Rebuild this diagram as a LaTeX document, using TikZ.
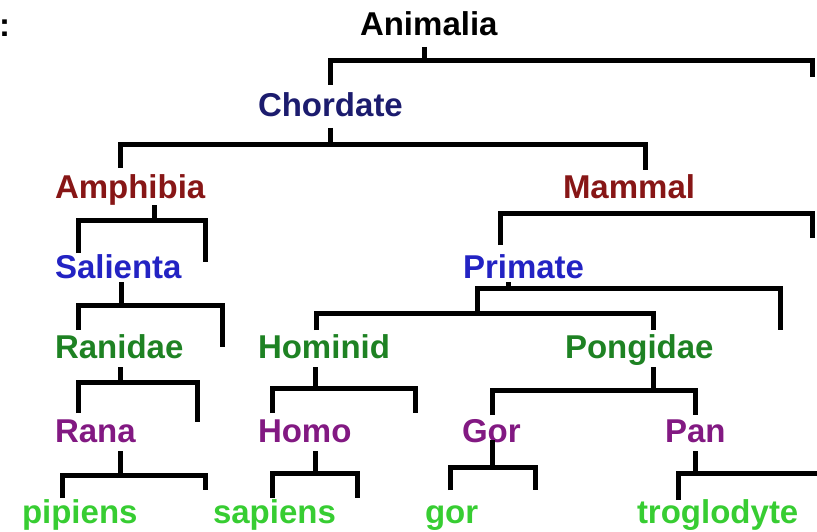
\documentclass[tikz,border=0pt]{standalone}
\usepackage{fontspec}
\setmainfont{Liberation Sans}
\definecolor{cChordate}{RGB}{28,28,110}
\definecolor{cClass}{RGB}{135,22,22}
\definecolor{cOrder}{RGB}{35,35,195}
\definecolor{cFamily}{RGB}{30,130,35}
\definecolor{cGenus}{RGB}{130,25,130}
\definecolor{cSpecies}{RGB}{55,205,50}
\begin{document}
\begin{tikzpicture}[x=1pt,y=-1pt,
  taxon/.style={anchor=base west,inner sep=0pt,outer sep=0pt,
    font=\fontsize{33}{33}\selectfont\bfseries,text depth=9pt},
  bar/.style={line width=5pt,line join=miter}]
\useasboundingbox (0,0) rectangle (817,532);
% names
\node[taxon]                  (colon)    at ( -1, 37) {:};
\node[taxon]                  (animalia) at (360, 36) {Animalia};
\node[taxon,color=cChordate]  (chordate) at (258,117) {Chordate};
\node[taxon,color=cClass]     (amphibia) at ( 55,198) {Amphibia};
\node[taxon,color=cClass]     (mammal)   at (563,198) {Mammal};
\node[taxon,color=cOrder]     (salienta) at ( 55,278) {Salienta};
\node[taxon,color=cOrder]     (primate)  at (463,278) {Primate};
\node[taxon,color=cFamily]    (ranidae)  at ( 55,358) {Ranidae};
\node[taxon,color=cFamily]    (hominid)  at (258,358) {Hominid};
\node[taxon,color=cFamily]    (pongidae) at (565,358) {Pongidae};
\node[taxon,color=cGenus]     (rana)     at ( 55,442) {Rana};
\node[taxon,color=cGenus]     (homo)     at (258,442) {Homo};
\node[taxon,color=cGenus]     (gor)      at (462,442) {Gor};
\node[taxon,color=cGenus]     (pan)      at (665,442) {Pan};
\node[taxon,color=cSpecies]   (pipiens)  at ( 22,523) {pipiens};
\node[taxon,color=cSpecies]   (sapiens)  at (213,523) {sapiens};
\node[taxon,color=cSpecies]   (gorsp)    at (425,523) {gor};
\node[taxon,color=cSpecies]   (troglo)   at (637,523) {troglodyte};
% coordinates
\coordinate (an0) at (424, 61);
\coordinate (an1) at (330, 85);
\coordinate (an2) at (330, 61);
\coordinate (an3) at (812, 61);
\coordinate (an4) at (812, 77);
\coordinate (ch0) at (330,145);
\coordinate (ch1) at (120,168);
\coordinate (ch2) at (120,145);
\coordinate (ch3) at (645,145);
\coordinate (ch4) at (645,170);
\coordinate (am0) at (154,220);
\coordinate (am1) at ( 78,253);
\coordinate (am2) at ( 78,220);
\coordinate (am3) at (205,220);
\coordinate (am4) at (205,262);
\coordinate (ma1) at (500,245);
\coordinate (ma2) at (500,213);
\coordinate (ma3) at (812,213);
\coordinate (ma4) at (812,238);
\coordinate (sa0) at (121,305);
\coordinate (sa1) at ( 78,330);
\coordinate (sa2) at ( 78,305);
\coordinate (sa3) at (222,305);
\coordinate (sa4) at (222,347);
\coordinate (pr0) at (508,288);
\coordinate (pr1) at (477,313);
\coordinate (pr2) at (477,288);
\coordinate (pr3) at (780,288);
\coordinate (pr4) at (780,330);
\coordinate (hp1) at (316,330);
\coordinate (hp2) at (316,313);
\coordinate (hp3) at (653,313);
\coordinate (hp4) at (653,330);
\coordinate (ra0) at (120,382);
\coordinate (ra1) at ( 78,413);
\coordinate (ra2) at ( 78,382);
\coordinate (ra3) at (197,382);
\coordinate (ra4) at (197,422);
\coordinate (ho0) at (315,388);
\coordinate (ho1) at (272,413);
\coordinate (ho2) at (272,388);
\coordinate (ho3) at (415,388);
\coordinate (ho4) at (415,413);
\coordinate (po0) at (653,390);
\coordinate (po1) at (492,415);
\coordinate (po2) at (492,390);
\coordinate (po3) at (695,390);
\coordinate (po4) at (695,415);
\coordinate (rn0) at (120,475);
\coordinate (rn1) at ( 62,498);
\coordinate (rn2) at ( 62,475);
\coordinate (rn3) at (205,475);
\coordinate (rn4) at (205,490);
\coordinate (hm0) at (315,473);
\coordinate (hm1) at (272,498);
\coordinate (hm2) at (272,473);
\coordinate (hm3) at (357,473);
\coordinate (hm4) at (357,498);
\coordinate (go0) at (492,467);
\coordinate (go1) at (450,490);
\coordinate (go2) at (450,467);
\coordinate (go3) at (535,467);
\coordinate (go4) at (535,490);
\coordinate (pa0) at (695,473);
\coordinate (pa1) at (678,500);
\coordinate (pa2) at (678,473);
\coordinate (pa3) at (820,473);
% brackets
\draw[bar] (an1) -- (an2) -- (an3) -- (an4);
\draw[bar] ([yshift=-2pt]animalia.south -| an0) -- (an0);
\draw[bar] (ch1) -- (ch2) -- (ch3) -- (ch4);
\draw[bar] ([yshift=-2pt]chordate.south -| ch0) -- (ch0);
\draw[bar] (am1) -- (am2) -- (am3) -- (am4);
\draw[bar] ([yshift=2pt]amphibia.south -| am0) -- (am0);
\draw[bar] (ma1) -- (ma2) -- (ma3) -- (ma4);
\draw[bar] (sa1) -- (sa2) -- (sa3) -- (sa4);
\draw[bar] ([yshift=5pt]salienta.south -| sa0) -- (sa0);
\draw[bar] (pr1) -- (pr2) -- (pr3) -- (pr4);
\draw[bar] ([yshift=5pt]primate.south -| pr0) -- (pr0);
\draw[bar] (hp1) -- (hp2) -- (hp3) -- (hp4);
\draw[bar] (ra1) -- (ra2) -- (ra3) -- (ra4);
\draw[bar] (ranidae.south -| ra0) -- (ra0);
\draw[bar] (ho1) -- (ho2) -- (ho3) -- (ho4);
\draw[bar] (hominid.south -| ho0) -- (ho0);
\draw[bar] (po1) -- (po2) -- (po3) -- (po4);
\draw[bar] (pongidae.south -| po0) -- (po0);
\draw[bar] (rn1) -- (rn2) -- (rn3) -- (rn4);
\draw[bar] (rana.south -| rn0) -- (rn0);
\draw[bar] (hm1) -- (hm2) -- (hm3) -- (hm4);
\draw[bar] (homo.south -| hm0) -- (hm0);
\draw[bar] (go1) -- (go2) -- (go3) -- (go4);
\draw[bar] ([yshift=11pt]gor.south -| go0) -- (go0);
\draw[bar] (pa1) -- (pa2) -- (pa3);
\draw[bar] (pan.south -| pa0) -- (pa0);
\end{tikzpicture}
\end{document}
